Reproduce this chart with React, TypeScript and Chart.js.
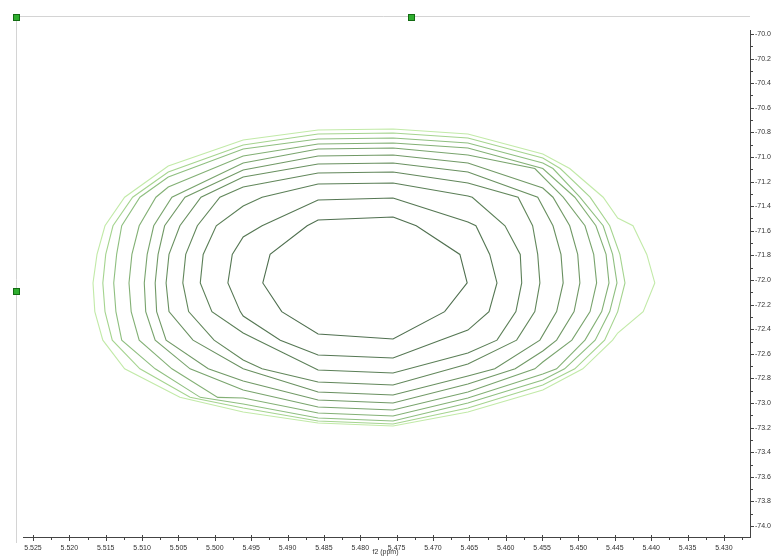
import React, { useEffect, useRef } from 'react';
import { Chart, registerables } from 'chart.js';

Chart.register(...registerables);

// axis ranges (ppm)
const X_MIN = 5.42641;
const X_MAX = 5.526375;
const Y_MIN = -74.0894;
const Y_MAX = -69.9675;

const xTickValues = [5.525, 5.52, 5.515, 5.51, 5.505, 5.5, 5.495, 5.49, 5.485, 5.48, 5.475, 5.47, 5.465, 5.46, 5.455, 5.45, 5.445, 5.44, 5.435, 5.43];
const xTickLabels = ['5.525', '5.520', '5.515', '5.510', '5.505', '5.500', '5.495', '5.490', '5.485', '5.480', '5.475', '5.470', '5.465', '5.460', '5.455', '5.450', '5.445', '5.440', '5.435', '5.430'];
const yTickValues = [-70.0, -70.2, -70.4, -70.6, -70.8, -71.0, -71.2, -71.4, -71.6, -71.8, -72.0, -72.2, -72.4, -72.6, -72.8, -73.0, -73.2, -73.4, -73.6, -73.8, -74.0];
const yTickLabels = ['-70.0', '-70.2', '-70.4', '-70.6', '-70.8', '-71.0', '-71.2', '-71.4', '-71.6', '-71.8', '-72.0', '-72.2', '-72.4', '-72.6', '-72.8', '-73.0', '-73.2', '-73.4', '-73.6', '-73.8', '-74.0'];
const xAxisTitle = 'f2 (ppm)';

// contour polygons [f2, f1], outermost (lowest level) first
const contour0 = [[5.4755,-70.772],[5.4652,-70.813],[5.4549,-70.976],[5.4512,-71.094],[5.4466,-71.327],[5.4446,-71.496],[5.4425,-71.559],[5.4406,-71.792],[5.4395,-72.024],[5.4411,-72.257],[5.4446,-72.431],[5.4453,-72.489],[5.4494,-72.722],[5.4549,-72.894],[5.4652,-73.073],[5.4755,-73.187],[5.4858,-73.163],[5.4961,-73.073],[5.5048,-72.954],[5.5124,-72.722],[5.5154,-72.489],[5.5165,-72.257],[5.51675,-72.024],[5.5162,-71.792],[5.5151,-71.559],[5.5124,-71.327],[5.5064,-71.073],[5.4961,-70.862],[5.4858,-70.780]];
const contour1 = [[5.4755,-70.805],[5.4652,-70.846],[5.4549,-71.008],[5.4525,-71.094],[5.4484,-71.327],[5.4457,-71.559],[5.4443,-71.792],[5.4436,-72.024],[5.4446,-72.257],[5.4464,-72.489],[5.4505,-72.722],[5.4549,-72.854],[5.4652,-73.041],[5.4755,-73.171],[5.4858,-73.146],[5.4961,-73.041],[5.5034,-72.954],[5.5103,-72.722],[5.5141,-72.489],[5.5151,-72.257],[5.5154,-72.024],[5.5150,-71.792],[5.5140,-71.559],[5.5113,-71.327],[5.5064,-71.122],[5.4961,-70.902],[5.4858,-70.813]];
const contour2 = [[5.4755,-70.846],[5.4652,-70.886],[5.4549,-71.049],[5.4535,-71.094],[5.4498,-71.327],[5.4466,-71.559],[5.4453,-71.792],[5.4447,-72.024],[5.4457,-72.257],[5.4477,-72.489],[5.4519,-72.722],[5.4549,-72.813],[5.4652,-73.000],[5.4755,-73.146],[5.4858,-73.122],[5.4961,-73.008],[5.5020,-72.954],[5.5082,-72.722],[5.5128,-72.489],[5.5136,-72.257],[5.5139,-72.024],[5.5135,-71.792],[5.5128,-71.559],[5.5103,-71.327],[5.5064,-71.163],[5.4961,-70.935],[5.4858,-70.854]];
const contour3 = [[5.4755,-70.886],[5.4652,-70.927],[5.4549,-71.094],[5.4505,-71.327],[5.4476,-71.559],[5.4462,-71.792],[5.4458,-72.024],[5.4468,-72.257],[5.4491,-72.489],[5.4530,-72.722],[5.4549,-72.764],[5.4652,-72.959],[5.4755,-73.106],[5.4858,-73.081],[5.4961,-72.959],[5.4996,-72.954],[5.5059,-72.722],[5.5104,-72.489],[5.5115,-72.257],[5.5118,-72.024],[5.5114,-71.792],[5.5104,-71.559],[5.5081,-71.327],[5.5064,-71.244],[5.4961,-70.992],[5.4858,-70.894]];
const contour4 = [[5.4755,-70.927],[5.4652,-70.984],[5.4560,-71.094],[5.4521,-71.327],[5.4491,-71.559],[5.4479,-71.792],[5.4475,-72.024],[5.4484,-72.257],[5.4509,-72.489],[5.4549,-72.667],[5.4560,-72.722],[5.4652,-72.911],[5.4755,-73.057],[5.4858,-73.033],[5.4961,-72.894],[5.5034,-72.722],[5.5082,-72.489],[5.5095,-72.257],[5.5097,-72.024],[5.5093,-71.792],[5.5084,-71.559],[5.5059,-71.327],[5.4961,-71.049],[5.4858,-70.935]];
const contour5 = [[5.4755,-70.984],[5.4652,-71.049],[5.4549,-71.252],[5.4535,-71.327],[5.4512,-71.559],[5.4501,-71.792],[5.4498,-72.024],[5.4506,-72.257],[5.4530,-72.489],[5.4549,-72.577],[5.4587,-72.722],[5.4652,-72.846],[5.4755,-73.000],[5.4858,-72.976],[5.4961,-72.821],[5.5009,-72.722],[5.5067,-72.489],[5.5080,-72.257],[5.5082,-72.024],[5.5078,-71.792],[5.5069,-71.559],[5.5041,-71.327],[5.4961,-71.106],[5.4858,-70.992]];
const contour6 = [[5.4755,-71.049],[5.4652,-71.122],[5.4556,-71.327],[5.4535,-71.559],[5.4524,-71.792],[5.4521,-72.024],[5.4530,-72.257],[5.4553,-72.489],[5.4615,-72.722],[5.4652,-72.780],[5.4755,-72.935],[5.4858,-72.911],[5.4961,-72.722],[5.5030,-72.489],[5.5063,-72.257],[5.5067,-72.024],[5.5063,-71.792],[5.5048,-71.559],[5.5019,-71.327],[5.4961,-71.163],[5.4858,-71.057]];
const contour7 = [[5.4755,-71.122],[5.4652,-71.211],[5.4583,-71.327],[5.4563,-71.559],[5.4556,-71.792],[5.4553,-72.024],[5.4560,-72.257],[5.4585,-72.489],[5.4652,-72.683],[5.4755,-72.854],[5.4858,-72.829],[5.4935,-72.722],[5.4961,-72.650],[5.5001,-72.489],[5.5036,-72.257],[5.5044,-72.024],[5.5040,-71.792],[5.5024,-71.559],[5.4993,-71.327],[5.4961,-71.244],[5.4858,-71.130]];
const contour8 = [[5.4755,-71.211],[5.4652,-71.317],[5.4646,-71.327],[5.4601,-71.559],[5.4580,-71.792],[5.4578,-72.024],[5.4586,-72.257],[5.4612,-72.489],[5.4652,-72.593],[5.4755,-72.756],[5.4858,-72.732],[5.4941,-72.489],[5.4961,-72.431],[5.5004,-72.257],[5.5020,-72.024],[5.5016,-71.792],[5.4998,-71.559],[5.4961,-71.398],[5.4935,-71.327],[5.4858,-71.220]];
const contour9 = [[5.4755,-71.333],[5.4652,-71.528],[5.4641,-71.559],[5.4622,-71.792],[5.4612,-72.024],[5.4623,-72.257],[5.4652,-72.407],[5.4690,-72.489],[5.4755,-72.634],[5.4858,-72.610],[5.4910,-72.489],[5.4961,-72.293],[5.4965,-72.257],[5.4982,-72.024],[5.4976,-71.792],[5.4961,-71.650],[5.4935,-71.559],[5.4858,-71.350]];
const contour10 = [[5.4755,-71.488],[5.4723,-71.559],[5.4663,-71.792],[5.4653,-72.024],[5.4684,-72.257],[5.4755,-72.480],[5.4858,-72.439],[5.4908,-72.257],[5.4934,-72.024],[5.4924,-71.792],[5.4873,-71.559],[5.4858,-71.512]];

const contours = [contour0, contour1, contour2, contour3, contour4, contour5, contour6, contour7, contour8, contour9, contour10];
const contourColors = ['#c2eaa8', '#a5d48f', '#8fbf80', '#83b075', '#79a46d', '#719966', '#699060', '#62875b', '#5b7f57', '#557753', '#4f6f4f'];

export default function App() {
  const ref = useRef<HTMLCanvasElement>(null);

  useEffect(() => {
    const canvas = ref.current;
    if (!canvas) return;

    const decor = {
      id: 'decor',
      beforeDraw(chart: any) {
        const ctx = chart.ctx;
        ctx.save();
        ctx.fillStyle = '#ffffff';
        ctx.fillRect(0, 0, chart.width, chart.height);
        ctx.restore();
      },
      afterDraw(chart: any) {
        const ctx = chart.ctx;
        const xs = chart.scales.x;
        const ys = chart.scales.y;
        const { left, right, top, bottom } = chart.chartArea;
        ctx.save();
        // spectrum frame lines (light grey)
        const fx = left - 6.5;
        const fy = top - 13.5;
        ctx.strokeStyle = '#d4d4d4';
        ctx.lineWidth = 1;
        ctx.beginPath();
        ctx.moveTo(fx, fy);
        ctx.lineTo(right, fy);
        ctx.moveTo(fx, fy);
        ctx.lineTo(fx, bottom + 6);
        ctx.stroke();

        // ticks
        ctx.strokeStyle = '#444';
        ctx.beginPath();
        xTickValues.forEach((v) => {
          const p = Math.round(xs.getPixelForValue(v)) + 0.5;
          ctx.moveTo(p, bottom - 2);
          ctx.lineTo(p, bottom + 4);
          const m = v - 0.0025;
          if (m > X_MIN) {
            const q = Math.round(xs.getPixelForValue(m)) + 0.5;
            ctx.moveTo(q, bottom);
            ctx.lineTo(q, bottom + 3);
          }
        });
        const firstMinor = xTickValues[0] + 0.0025;
        if (firstMinor < X_MAX) {
          const q = Math.round(xs.getPixelForValue(firstMinor)) + 0.5;
          ctx.moveTo(q, bottom);
          ctx.lineTo(q, bottom + 3);
        }
        yTickValues.forEach((v) => {
          const p = Math.round(ys.getPixelForValue(v)) + 0.5;
          ctx.moveTo(right, p);
          ctx.lineTo(right + 4, p);
          const m = v - 0.1;
          if (m > Y_MIN) {
            const q = Math.round(ys.getPixelForValue(m)) + 0.5;
            ctx.moveTo(right, q);
            ctx.lineTo(right + 3, q);
          }
        });
        ctx.stroke();

        // axis title
        ctx.fillStyle = '#333';
        ctx.font = '7px "Liberation Sans"';
        ctx.textAlign = 'center';
        ctx.textBaseline = 'top';
        ctx.fillText(xAxisTitle, (left + right) / 2 - 1, bottom + 12);

        // green handles
        const cx = Math.floor(fx);
        const cy = Math.floor(fy) + 1;
        const handles = [
          [cx, cy],
          [Math.floor((fx + right) / 2) + 28, cy],
          [cx, Math.floor((top + bottom) / 2) + 8],
        ];
        handles.forEach(([hx, hy]) => {
          ctx.fillStyle = '#2fae2f';
          ctx.strokeStyle = '#136b13';
          ctx.fillRect(hx - 3, hy - 3, 6, 6);
          ctx.strokeRect(hx - 2.5, hy - 2.5, 6, 6);
        });
        ctx.restore();
      },
    };

    const datasets = contours.map((c, i) => ({
      label: 'level ' + (i + 1),
      data: [...c, c[0]].map(([x, y]) => ({ x, y })),
      showLine: true,
      borderColor: contourColors[i],
      backgroundColor: contourColors[i],
      borderWidth: 1.1,
      pointRadius: 0,
      pointHoverRadius: 0,
      fill: false,
      tension: 0,
    }));

    const chart = new Chart(canvas, {
      type: 'scatter',
      data: { datasets },
      options: {
        animation: false,
        responsive: false,
        devicePixelRatio: 1,
        layout: { padding: { left: 23, top: 30, right: 0, bottom: 0 } },
        plugins: { legend: { display: false }, tooltip: { enabled: false }, title: { display: false } },
        scales: {
          x: {
            type: 'linear',
            position: 'bottom',
            reverse: true,
            min: X_MIN,
            max: X_MAX,
            afterBuildTicks: (s: any) => {
              s.ticks = xTickValues.map((v) => ({ value: v }));
            },
            afterFit: (s: any) => {
              s.height = 19;
            },
            grid: { display: false, drawTicks: false },
            border: { display: true, color: '#444', width: 1 },
            ticks: {
              autoSkip: false,
              maxRotation: 0,
              minRotation: 0,
              padding: 7,
              color: '#333',
              font: { family: 'Liberation Sans', size: 7 },
              callback: (_v: any, i: number) => xTickLabels[i],
            },
          },
          y: {
            type: 'linear',
            position: 'right',
            min: Y_MIN,
            max: Y_MAX,
            afterBuildTicks: (s: any) => {
              s.ticks = yTickValues.map((v) => ({ value: v }));
            },
            afterFit: (s: any) => {
              s.width = 27;
            },
            grid: { display: false, drawTicks: false },
            border: { display: true, color: '#444', width: 1 },
            ticks: {
              autoSkip: false,
              padding: 5,
              color: '#333',
              font: { family: 'Liberation Sans', size: 7 },
              callback: (_v: any, i: number) => yTickLabels[i],
            },
          },
        },
      },
      plugins: [decor],
    });

    return () => chart.destroy();
  }, []);

  return (
    <div style={{ position: 'fixed', left: 0, top: 0, width: 777, height: 556, background: '#fff' }}>
      <canvas ref={ref} width={777} height={556} style={{ display: 'block' }} />
    </div>
  );
}
